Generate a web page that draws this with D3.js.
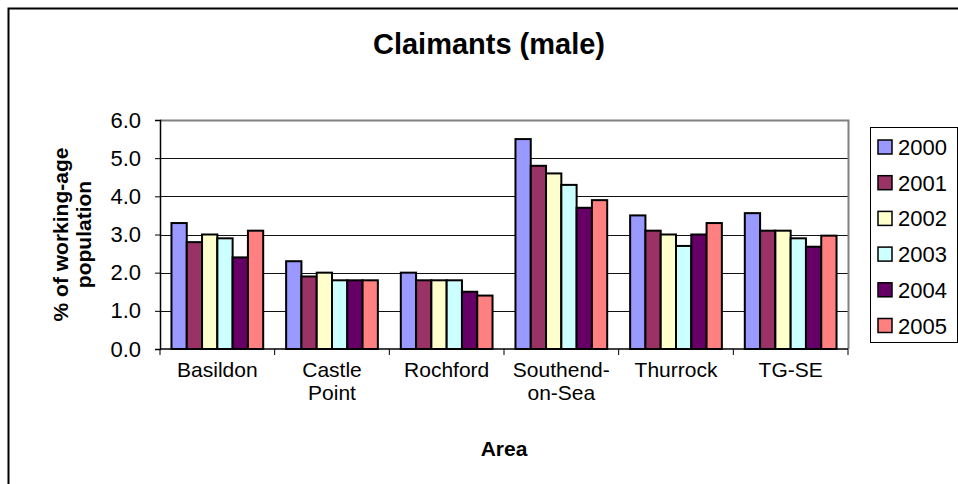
<!DOCTYPE html>
<html>
<head>
<meta charset="utf-8">
<script src="https://cdn.jsdelivr.net/npm/d3@7"></script>
<style>
  body { margin: 0; background: #fff; }
  svg { display: block; font-family: Arial, "Liberation Sans", sans-serif; }
</style>
</head>
<body>
<div id="chart"></div>
<script>
// Data
const areas = ["Basildon", "Castle Point", "Rochford", "Southend-on-Sea", "Thurrock", "TG-SE"];
const areaLines = [["Basildon"], ["Castle", "Point"], ["Rochford"], ["Southend-", "on-Sea"], ["Thurrock"], ["TG-SE"]];
const years = ["2000", "2001", "2002", "2003", "2004", "2005"];
const yearColors = ["#9999FF", "#993366", "#FFFFCC", "#CCFFFF", "#660066", "#FF8080"];
const values = {
    "Basildon":        [3.3, 2.8, 3.0, 2.9, 2.4, 3.1],
    "Castle Point":    [2.3, 1.9, 2.0, 1.8, 1.8, 1.8],
    "Rochford":        [2.0, 1.8, 1.8, 1.8, 1.5, 1.4],
    "Southend-on-Sea": [5.5, 4.8, 4.6, 4.3, 3.7, 3.9],
    "Thurrock":        [3.5, 3.1, 3.0, 2.7, 3.0, 3.3],
    "TG-SE":           [3.56, 3.1, 3.1, 2.9, 2.68, 2.97]
};
const yTicks = [0, 1, 2, 3, 4, 5, 6];

const W = 958, H = 484;
const plot = {left: 160, right: 848, top: 120, bottom: 349};

const svg = d3.select("#chart").append("svg")
    .attr("width", W)
    .attr("height", H);

// Chart area border (runs off the right and bottom edges)
svg.append("rect")
    .attr("x", 8.5).attr("y", 8.5)
    .attr("width", 1000).attr("height", 1000)
    .attr("fill", "#fff")
    .attr("stroke", "#000")
    .attr("stroke-width", 2);

// Title
svg.append("text")
    .attr("x", 489).attr("y", 54)
    .attr("text-anchor", "middle")
    .style("font-size", "29px")
    .style("font-weight", "bold")
    .text("Claimants (male)");

// Scales
const x = d3.scaleBand()
    .domain(areas)
    .range([plot.left, plot.right])
    .paddingInner(0.2)
    .paddingOuter(0.1);

const xYear = d3.scaleBand()
    .domain(years)
    .range([0, x.bandwidth()]);

const y = d3.scaleLinear()
    .domain([0, 6])
    .range([plot.bottom, plot.top]);

// Gridlines
svg.append("g")
    .selectAll("line")
    .data(yTicks.filter(d => d > 0 && d < 6))
    .join("line")
    .attr("x1", plot.left).attr("x2", plot.right)
    .attr("y1", d => Math.round(y(d)) + 0.5)
    .attr("y2", d => Math.round(y(d)) + 0.5)
    .attr("stroke", "#111")
    .attr("stroke-width", 1);

// Plot area border top/right in gray
svg.append("path")
    .attr("d", `M${plot.left},${plot.top + 0.5}H${plot.right + 0.5}V${plot.bottom}`)
    .attr("fill", "none")
    .attr("stroke", "#808080")
    .attr("stroke-width", 2);

// Bars
const groups = svg.append("g")
    .selectAll("g")
    .data(areas)
    .join("g")
    .attr("transform", d => `translate(${x(d)},0)`);

groups.selectAll("rect")
    .data(d => values[d].map((v, i) => ({year: years[i], value: v, color: yearColors[i]})))
    .join("rect")
    .attr("x", d => xYear(d.year))
    .attr("y", d => y(d.value))
    .attr("width", xYear.bandwidth())
    .attr("height", d => y(0) - y(d.value))
    .attr("fill", d => d.color)
    .attr("stroke", "#000")
    .attr("stroke-width", 2);

// Y axis
const yAxis = svg.append("g")
    .attr("transform", `translate(${plot.left},0)`)
    .call(d3.axisLeft(y).tickValues(yTicks).tickFormat(d3.format(".1f")).tickSize(5).tickPadding(14));
yAxis.select(".domain").attr("stroke", "#000").attr("stroke-width", 1.5);
yAxis.selectAll(".tick line").attr("stroke", "#000");
yAxis.selectAll("text")
    .style("font-size", "22px")
    .attr("fill", "#000");

// X axis: ticks at category boundaries
const xAxis = svg.append("g")
    .attr("transform", `translate(0,${plot.bottom})`);
xAxis.append("line")
    .attr("x1", plot.left).attr("x2", plot.right)
    .attr("stroke", "#000").attr("stroke-width", 1.5);
const step = x.step();
xAxis.selectAll(".xt")
    .data(d3.range(areas.length + 1))
    .join("line")
    .attr("class", "xt")
    .attr("x1", i => plot.left + i * step)
    .attr("x2", i => plot.left + i * step)
    .attr("y1", 0).attr("y2", 6)
    .attr("stroke", "#000");

const catLabels = xAxis.selectAll(".cat")
    .data(areas)
    .join("text")
    .attr("class", "cat")
    .attr("text-anchor", "middle")
    .attr("x", d => x(d) + x.bandwidth() / 2)
    .attr("y", 28)
    .style("font-size", "21px");
catLabels.selectAll("tspan")
    .data((d, i) => areaLines[i])
    .join("tspan")
    .attr("x", function() { return this.parentNode.getAttribute("x"); })
    .attr("dy", (d, i) => i === 0 ? 0 : 23)
    .text(d => d);

// Axis titles
svg.append("text")
    .attr("x", (plot.left + plot.right) / 2)
    .attr("y", 456)
    .attr("text-anchor", "middle")
    .style("font-size", "21px")
    .style("font-weight", "bold")
    .text("Area");

const yTitle = svg.append("text")
    .attr("transform", `translate(0,${(plot.top + plot.bottom) / 2}) rotate(-90)`)
    .attr("text-anchor", "middle")
    .style("font-size", "21px")
    .style("font-weight", "bold");
yTitle.append("tspan").attr("x", 0).attr("y", 68).text("% of working-age");
yTitle.append("tspan").attr("x", 0).attr("y", 91).text("population");

// Legend
const legend = svg.append("g").attr("transform", "translate(870,127)");
legend.append("rect")
    .attr("x", 0.5).attr("y", 0.5)
    .attr("width", 87).attr("height", 215)
    .attr("fill", "#fff")
    .attr("stroke", "#000");
const items = legend.selectAll(".item")
    .data(years)
    .join("g")
    .attr("class", "item")
    .attr("transform", (d, i) => `translate(0,${20 + i * 35.7})`);
items.append("rect")
    .attr("x", 8).attr("y", -7)
    .attr("width", 14).attr("height", 14)
    .attr("fill", (d, i) => yearColors[i])
    .attr("stroke", "#000")
    .attr("stroke-width", 1.5);
items.append("text")
    .attr("x", 28).attr("y", 8)
    .style("font-size", "22px")
    .text(d => d);
</script>
</body>
</html>
